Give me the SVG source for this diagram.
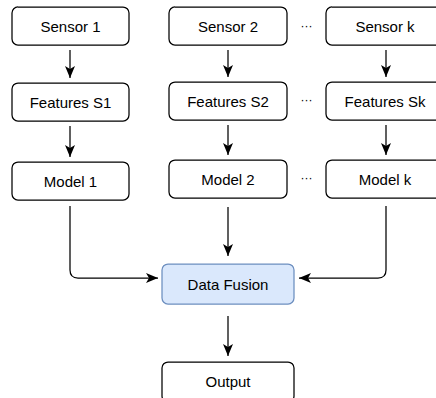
<svg xmlns="http://www.w3.org/2000/svg" width="436" height="398" viewBox="0 0 436 398">
<defs>
<style>
.box{fill:#ffffff;stroke:#000000;stroke-width:1.25}
.fusion{fill:#dae8fc;stroke:#6c8ebf;stroke-width:1.25}
.lbl{font-family:"Liberation Sans",Arial,sans-serif;font-size:15px;fill:#000000;text-anchor:middle;dominant-baseline:central}
.dots{font-family:"Liberation Sans",Arial,sans-serif;font-size:12px;fill:#000000;text-anchor:middle;dominant-baseline:central}
.edge{fill:none;stroke:#000000;stroke-width:1.25}
</style>
<marker id="ah" viewBox="0 0 12 10" refX="12" refY="5" markerWidth="12" markerHeight="10" markerUnits="userSpaceOnUse" orient="auto">
<path d="M0,0 L12,5 L0,10 L3,5 Z" fill="#000000"/>
</marker>
</defs>
<rect width="436" height="398" fill="#ffffff"/>
<g id="connectors">
<path class="edge" d="M70,50 V78" marker-end="url(#ah)"/>
<path class="edge" d="M70,126 V157" marker-end="url(#ah)"/>
<path class="edge" d="M228,50 V77" marker-end="url(#ah)"/>
<path class="edge" d="M228,125 V155" marker-end="url(#ah)"/>
<path class="edge" d="M386,50 V77" marker-end="url(#ah)"/>
<path class="edge" d="M386,125 V155" marker-end="url(#ah)"/>
<path class="edge" d="M70,206 V270 Q70,278 78,278 H158" marker-end="url(#ah)"/>
<path class="edge" d="M228,207 V256" marker-end="url(#ah)"/>
<path class="edge" d="M386,206 V270 Q386,278 378,278 H299" marker-end="url(#ah)"/>
<path class="edge" d="M228,316 V356" marker-end="url(#ah)"/>
</g>
<g id="sensor1"><rect class="box" x="12" y="7" width="117" height="38" rx="6"/><text class="lbl" x="70.5" y="26">Sensor 1</text></g>
<g id="sensor2"><rect class="box" x="169" y="7" width="118" height="38" rx="6"/><text class="lbl" x="228" y="26">Sensor 2</text></g>
<g id="sensork"><rect class="box" x="326" y="7" width="118" height="38" rx="6"/><text class="lbl" x="385" y="26">Sensor k</text></g>
<g id="features1"><rect class="box" x="12" y="83" width="117" height="38" rx="6"/><text class="lbl" x="70.5" y="102">Features S1</text></g>
<g id="features2"><rect class="box" x="169" y="82" width="118" height="38" rx="6"/><text class="lbl" x="228" y="101">Features S2</text></g>
<g id="featuresk"><rect class="box" x="326" y="82" width="118" height="38" rx="6"/><text class="lbl" x="385" y="101">Features Sk</text></g>
<g id="model1"><rect class="box" x="12" y="162" width="117" height="38" rx="6"/><text class="lbl" x="70.5" y="181">Model 1</text></g>
<g id="model2"><rect class="box" x="169" y="160" width="118" height="38" rx="6"/><text class="lbl" x="228" y="179">Model 2</text></g>
<g id="modelk"><rect class="box" x="326" y="160" width="118" height="38" rx="6"/><text class="lbl" x="385" y="179">Model k</text></g>
<g id="dots1"><text class="dots" x="306.5" y="26">···</text></g>
<g id="dots2"><text class="dots" x="306.5" y="100">···</text></g>
<g id="dots3"><text class="dots" x="306.5" y="178">···</text></g>
<g id="fusion"><rect class="fusion" x="162" y="264" width="132" height="40" rx="6"/><text class="lbl" x="228" y="284">Data Fusion</text></g>
<g id="output"><rect class="box" x="162" y="362" width="132" height="40" rx="6"/><text class="lbl" x="228" y="381">Output</text></g>
</svg>
